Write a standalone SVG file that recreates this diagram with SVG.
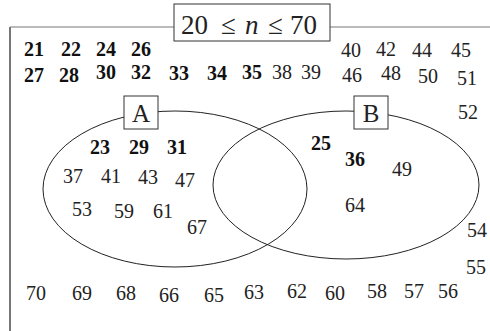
<svg xmlns="http://www.w3.org/2000/svg" width="490" height="331" viewBox="0 0 490 331">
<style>
.box{fill:#fff;stroke:#333;stroke-width:1}
.ell{fill:none;stroke:#222;stroke-width:1}
.frame{stroke:#777;fill:none}
</style>
<rect width="490" height="331" fill="#fff"/>
<g id="frame">
<line class="frame" x1="10" y1="27" x2="490" y2="27" stroke-width="1"/>
<line class="frame" x1="10" y1="27" x2="10" y2="331" stroke-width="2"/>
</g>
<g id="connectors"></g>
<g id="setA">
<ellipse class="ell" cx="175" cy="189" rx="132" ry="78"/>
</g>
<g id="setB">
<ellipse class="ell" cx="346" cy="185" rx="133" ry="74"/>
</g>
<g id="title" font-family="Liberation Serif, serif" font-size="27" fill="#222">
<rect class="box" x="174" y="4" width="156" height="37"/>
<text y="34"><tspan x="181">20</tspan><tspan x="221">≤</tspan><tspan x="245" font-style="italic">n</tspan><tspan x="268">≤</tspan><tspan x="290">70</tspan></text>
</g>
<g id="labelA" font-family="Liberation Serif, serif" font-size="25" fill="#222">
<rect class="box" x="124" y="96" width="34" height="33"/>
<text x="141" y="122" text-anchor="middle">A</text>
</g>
<g id="labelB" font-family="Liberation Serif, serif" font-size="25" fill="#222">
<rect class="box" x="354" y="96" width="34" height="33"/>
<text x="371" y="122" text-anchor="middle">B</text>
</g>
<g id="universe" font-family="Liberation Serif, serif" font-size="20" fill="#222">
<g font-weight="bold" fill="#111">
<text x="24" y="56">21</text>
<text x="61" y="56">22</text>
<text x="96" y="56">24</text>
<text x="131" y="56">26</text>
<text x="24" y="82">27</text>
<text x="59" y="82">28</text>
<text x="96" y="79">30</text>
<text x="131" y="79">32</text>
<text x="169" y="80">33</text>
<text x="207" y="80">34</text>
<text x="242" y="79">35</text>
</g>
<text x="272" y="79">38</text>
<text x="301" y="79">39</text>
<text x="341" y="57">40</text>
<text x="376" y="56">42</text>
<text x="412" y="57">44</text>
<text x="451" y="57">45</text>
<text x="342" y="82">46</text>
<text x="381" y="80">48</text>
<text x="418" y="83">50</text>
<text x="457" y="85">51</text>
<text x="458" y="119">52</text>
<text x="467" y="237">54</text>
<text x="466" y="274">55</text>
<text x="26" y="300">70</text>
<text x="72" y="300">69</text>
<text x="116" y="300">68</text>
<text x="159" y="302">66</text>
<text x="204" y="302">65</text>
<text x="244" y="299">63</text>
<text x="287" y="298">62</text>
<text x="325" y="300">60</text>
<text x="367" y="298">58</text>
<text x="404" y="298">57</text>
<text x="438" y="298">56</text>
</g>
<g id="inA" font-family="Liberation Serif, serif" font-size="20" fill="#222">
<g font-weight="bold" fill="#111">
<text x="90" y="154">23</text>
<text x="129" y="154">29</text>
<text x="167" y="154">31</text>
</g>
<text x="63" y="183">37</text>
<text x="101" y="183">41</text>
<text x="138" y="184">43</text>
<text x="175" y="187">47</text>
<text x="72" y="216">53</text>
<text x="114" y="218">59</text>
<text x="153" y="218">61</text>
<text x="187" y="234">67</text>
</g>
<g id="inB" font-family="Liberation Serif, serif" font-size="20" fill="#222">
<g font-weight="bold" fill="#111">
<text x="311" y="150">25</text>
<text x="345" y="166">36</text>
</g>
<text x="392" y="176">49</text>
<text x="345" y="212">64</text>
</g>
</svg>
